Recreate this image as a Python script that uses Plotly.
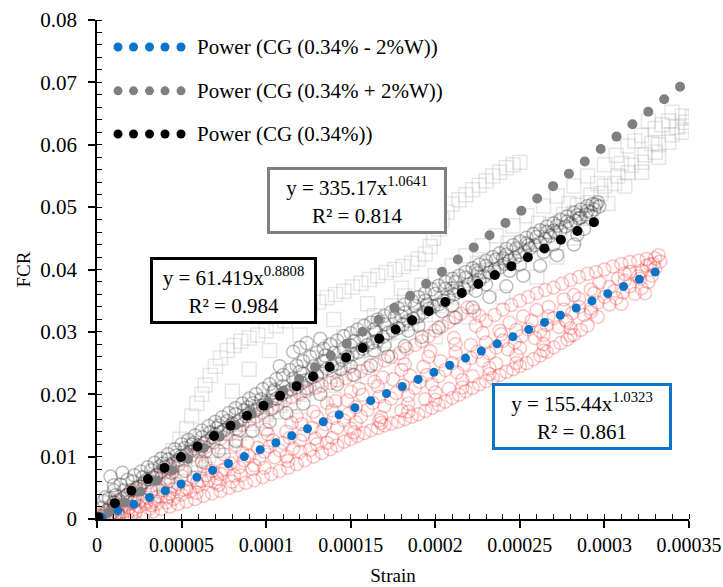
import numpy as np
import plotly.graph_objects as go

# ---------------- data (strain in 1e-5, FCR in 1e-3) ----------------
red_pts = [
    (0.1,0.1),(0.5,1.2),(0.2,0.8),
    (0.3,0.4),(0.8,0.6),(1.2,1.5),(1.6,1.2),(2.1,2.6),(2.5,2.0),(3.0,3.4),(3.4,2.9),(3.9,4.6),(4.3,4.1),
    (4.8,5.6),(5.3,5.0),(5.7,6.6),(6.2,6.1),(6.8,7.7),(7.3,7.2),(7.9,8.9),(8.4,8.3),(9.0,10.1),(9.6,9.6),
    (10.2,11.6),(10.8,11.0),(11.4,13.0),(12.0,12.6),(12.7,14.6),(13.3,14.1),(14.0,16.2),(14.6,15.8),
    (15.3,17.9),(16.0,17.5),(16.7,19.6),(17.4,19.3),(18.1,21.4),(18.8,21.0),(19.5,23.1),(20.2,22.9),
    (21.0,25.0),(21.7,24.7),(22.5,26.8),(23.2,26.6),(24.0,28.6),(24.7,28.3),(25.5,30.4),(26.2,30.1),
    (27.0,32.2),(27.7,31.9),(28.5,34.0),(29.2,33.7),(30.0,35.6),(30.7,35.4),(31.5,37.3),(32.2,37.0),(32.8,39.0),
    (1.0,2.8),(1.8,3.9),(2.6,5.2),(3.5,6.6),(4.4,8.0),(5.2,9.5),(6.0,10.8),(6.9,12.3),(7.7,13.6),(8.6,15.1),
    (9.4,16.4),(10.3,17.6),(11.1,19.0),(12.0,20.1),(12.9,21.0),(13.8,21.8),(14.7,22.6),(15.6,23.7),
    (16.5,24.8),(17.4,26.0),(18.3,27.3),(19.2,28.5),(20.0,30.2),(20.8,31.6),(21.5,32.9),(22.3,33.3),
    (23.0,31.8),(24.0,33.6),(25.0,35.0),(26.0,36.2),(27.0,37.1),(28.0,38.3),(29.0,39.3),(30.0,40.0),
    (31.0,40.9),(32.0,41.4),(33.0,41.8),(32.5,40.6),(31.5,39.6),
    (1.5,0.3),(2.8,0.9),(3.8,1.6),(4.8,2.4),(5.8,3.2),(6.8,4.1),(7.8,5.0),(8.8,5.8),(9.8,6.7),(10.8,7.7),
    (11.8,8.8),(12.8,10.0),(13.8,11.2),(14.6,12.4),(15.4,13.3),(16.2,14.2),(17.0,15.0),(17.8,15.6),
    (18.6,16.4),(19.4,17.3),(20.2,18.3),(21.0,19.4),(21.8,20.5),(22.6,21.6),(23.4,22.6),(24.2,23.6),
    (25.0,24.5),(25.8,25.6),(26.6,26.8),(27.4,28.2),(28.2,29.5),(29.0,31.0),
    (3.2,2.2),(5.0,3.9),(7.0,5.8),(9.2,8.0),(11.2,10.0),(13.0,12.0),(15.0,14.5),(16.8,16.3),(18.4,18.5),
    (20.0,20.3),(21.6,22.3),(23.2,24.2),(24.8,26.2),(26.4,28.0),(28.0,30.6),(29.6,32.4),(31.0,34.5),(32.4,36.2),
    (4.0,6.3),(6.4,9.0),(8.2,11.8),(10.0,14.3),(11.8,16.5),(13.6,18.6),(15.0,20.4),(16.4,22.0),(18.0,23.9),
    (19.6,26.0),(21.2,28.0),(22.8,29.8),(24.4,31.5),(26.0,33.5),(27.6,35.2),(29.2,36.8),(30.8,38.5),(32.2,39.8),
    (0.4,0.2),(0.9,1.0),(1.3,0.6),(1.9,1.8),(2.3,1.1),(2.9,2.5),(3.6,3.6),(4.1,2.7),(4.6,4.8),(5.5,4.4),
    (6.0,5.3),(6.5,7.0),(7.1,6.5),(7.6,8.0),(8.1,7.0),(8.7,9.4),(9.3,8.6),(9.9,10.8),(10.5,9.9),(11.0,12.2),
    (11.6,11.3),(12.2,13.5),(12.9,12.9),(13.5,15.2),(14.2,14.6),(14.9,16.9),(15.6,16.4),(16.3,18.6),
    (17.0,18.1),(17.7,20.2),(18.4,19.8),(19.1,22.0),(19.8,21.6),(20.6,23.9),(21.3,23.5),(22.1,25.8),
    (22.8,25.4),(23.6,27.5),(24.3,27.2),(25.1,29.3),(25.9,29.0),(26.6,31.1),(27.3,30.8),(28.1,33.0),
    (28.8,32.7),(29.6,34.7),(30.3,34.4),(31.1,36.3),(31.8,36.1),(32.6,38.0),(33.0,40.2),
    (2.2,4.6),(3.0,5.8),(4.0,7.4),(4.8,8.6),(5.6,10.2),(6.4,11.5),(7.3,12.9),(8.2,14.4),(9.0,15.8),
    (9.8,17.0),(10.7,18.3),(11.5,19.6),(12.4,20.6),(13.3,21.4),(14.2,22.2),(15.1,23.1),(16.0,24.2),
    (17.0,25.4),(17.9,26.6),(18.8,27.9),(19.6,29.3),(20.4,30.9),(21.1,32.3),(21.9,33.9),(22.6,32.6),
    (23.5,32.7),(24.5,34.3),(25.5,35.6),(26.5,36.7),(27.5,37.7),(28.5,38.8),(29.5,39.6),(30.5,40.5),
    (31.5,41.2),(32.5,41.7),(33.2,42.3),
    (2.0,0.5),(3.3,1.2),(4.3,2.0),(5.3,2.8),(6.3,3.7),(7.3,4.5),(8.3,5.4),(9.3,6.2),(10.3,7.2),(11.3,8.2),
    (12.3,9.4),(13.3,10.6),(14.2,11.8),(15.0,12.8),(15.8,13.8),(16.6,14.6),(17.4,15.3),(18.2,16.0),
    (19.0,16.8),(19.8,17.8),(20.6,18.8),(21.4,19.9),(22.2,21.0),(23.0,22.1),(23.8,23.1),(24.6,24.0),
    (25.4,25.0),(26.2,26.2),(27.0,27.5),(27.8,28.8),(28.6,30.3),
    (1.1,2.0),(2.4,3.3),(3.7,5.2),(5.0,6.9),(6.3,8.4),(7.5,10.4),(8.9,12.2),(10.1,13.6),(11.5,15.4),
    (12.8,17.2),(14.1,18.9),(15.5,20.9),(16.9,22.7),(18.2,24.8),(19.7,26.9),(21.1,29.0),(22.4,31.0),
    (23.8,30.2),(25.2,32.5),(26.7,34.0),(28.2,35.9),(29.7,37.9),(31.2,39.3),(32.7,40.8),
    (1.8,0.9),(3.1,1.7),(4.5,3.2),(5.9,4.2),(7.2,5.5),(8.5,7.0),(9.9,8.2),(11.3,9.3),(12.6,11.1),
    (13.9,13.0),(15.3,15.5),(16.7,15.8),(18.0,17.4),(19.4,19.2),(20.8,20.9),(22.2,22.9),(23.6,24.9),
    (25.0,27.4),(26.4,29.5),(27.8,31.6),(29.2,33.2),(30.6,36.6),(32.0,38.9),
    (0.6,0.5),(1.4,1.1),(2.2,1.6),(2.7,3.1),(3.5,2.4),(4.2,3.5),(5.1,4.7),(5.9,5.8),(6.6,6.2),(7.4,7.8),
    (8.0,6.0),(8.6,10.6),(9.5,11.4),(10.4,12.6),(11.2,14.0),(12.1,15.2),(13.0,16.4),(13.9,17.4),
    (14.8,19.0),(15.7,19.9),(16.6,21.3),(17.5,22.4),(18.5,23.0),(19.3,24.4),(20.3,25.3),(21.2,26.7),
    (22.1,27.9),(23.0,28.3),(23.9,29.6),(24.8,30.3),(25.7,31.8),(26.7,32.5),(27.6,33.6),(28.5,35.3),
    (29.4,36.2),(30.3,37.2),(31.2,38.2),(32.1,38.5),(32.9,40.9),(33.3,41.3),
    (12.0,10.8),(13.6,12.2),(15.2,13.9),(16.8,15.4),(18.4,17.2),(20.0,19.1),(21.6,21.1),(23.2,23.2),
    (24.8,25.0),(26.4,27.0),(28.0,29.4),
]

dark_pts = [
    (0.2,0.5),(0.6,1.4),(1.0,2.6),(1.5,3.3),(2.0,4.6),(2.5,5.2),(3.0,6.4),(3.5,7.0),(4.0,8.3),(4.5,8.9),
    (5.0,10.1),(5.5,10.8),(6.0,11.8),(6.5,12.5),(7.0,13.6),(7.5,14.2),(8.0,15.3),(8.5,15.9),(9.0,17.0),
    (9.5,17.6),(10.0,18.6),(10.6,19.3),(11.2,20.4),(11.8,21.1),(12.4,22.3),(13.0,23.0),(13.6,24.1),
    (14.2,24.9),(14.8,26.0),(15.4,26.7),(16.0,27.9),(16.6,28.6),(17.2,29.8),(17.8,30.6),(18.4,31.8),
    (19.0,32.5),(19.6,33.7),(20.2,34.4),(20.8,35.6),(21.4,36.4),(22.0,37.6),(22.6,38.3),(23.2,39.5),
    (23.8,40.3),(24.4,41.4),(25.0,42.3),(25.6,43.4),(26.2,44.3),(26.8,45.4),(27.4,46.3),(28.0,47.4),
    (28.6,48.3),(29.2,49.2),(29.7,50.1),
    (0.4,2.9),(1.0,4.6),(1.8,6.3),(2.6,7.6),(3.4,9.0),(4.2,10.4),(5.0,12.0),(5.8,13.4),(6.6,14.9),
    (7.4,16.3),(8.2,17.8),(9.0,19.3),(9.8,20.8),(10.6,22.4),(11.4,23.9),(12.2,25.3),(13.0,26.7),
    (13.8,28.0),(14.6,29.3),(15.4,30.4),(16.2,31.5),(17.0,32.6),(17.8,33.8),(18.6,35.0),(19.4,36.2),
    (20.2,37.4),(21.0,38.5),(21.8,39.6),(22.6,40.8),(23.4,42.0),(24.2,43.3),(25.0,44.5),(25.8,45.7),
    (26.6,46.9),(27.4,48.0),(28.2,49.1),(29.0,50.2),(29.6,50.8),
    (10.8,24.5),(11.6,26.8),(12.4,28.2),(13.2,28.9),(12.0,27.5),
    (0.5,3.5),(1.0,5.4),(1.5,7.4),(0.8,6.8),
    (1.2,1.0),(2.2,2.8),(3.2,4.4),(4.2,6.0),(5.2,7.7),(6.2,9.2),(7.2,10.9),(8.2,12.5),(9.2,14.1),
    (10.2,15.6),(11.2,17.0),(12.2,18.5),(13.2,20.0),(14.2,21.6),(15.2,23.1),(16.2,24.6),(17.2,26.1),
    (18.2,27.7),(19.2,29.2),(20.2,30.7),(21.2,32.3),(22.2,33.9),(23.2,35.6),(24.2,37.3),(25.2,39.0),
    (26.2,40.6),(27.2,42.3),(28.2,44.0),
    (0.8,2.0),(1.3,3.0),(1.8,3.9),(2.3,4.9),(2.8,5.9),(3.3,6.7),(3.8,7.6),(4.3,8.6),(4.8,9.5),(5.3,10.4),
    (5.8,11.3),(6.3,12.1),(6.8,13.1),(7.3,13.9),(7.8,14.8),(8.3,15.6),(8.8,16.5),(9.3,17.3),(9.8,18.2),
    (10.3,19.0),(10.9,19.9),(11.5,20.8),(12.1,21.8),(12.7,22.7),(13.3,23.6),(13.9,24.5),(14.5,25.5),
    (15.1,26.4),(15.7,27.3),(16.3,28.3),(16.9,29.2),(17.5,30.2),(18.1,31.2),(18.7,32.1),(19.3,33.1),
    (19.9,34.1),(20.5,35.0),(21.1,36.0),(21.7,37.0),(22.3,38.0),(22.9,38.9),(23.5,39.9),(24.1,40.9),
    (24.7,41.9),(25.3,42.9),(25.9,43.9),(26.5,44.9),(27.1,45.9),(27.7,46.9),(28.3,47.8),(28.9,48.8),(29.4,49.6),
    (1.4,5.5),(2.2,7.0),(3.0,8.3),(3.8,9.7),(4.6,11.2),(5.4,12.7),(6.2,14.2),(7.0,15.6),(7.8,17.0),
    (8.6,18.5),(9.4,20.0),(10.2,21.6),(11.0,23.1),(11.8,24.6),(12.6,26.0),(13.4,27.3),(14.2,28.6),
    (15.0,29.8),(15.8,31.0),(16.6,32.0),(17.4,33.2),(18.2,34.4),(19.0,35.6),(19.8,36.8),(20.6,38.0),
    (21.4,39.0),(22.2,40.2),(23.0,41.4),(23.8,42.6),(24.6,43.9),(25.4,45.1),(26.2,46.3),(27.0,47.4),
    (27.8,48.5),(28.6,49.6),(29.3,50.5),
    (0.3,1.8),(0.7,3.3),(1.1,3.8),(1.6,4.6),(2.1,6.0),(2.7,6.7),(3.2,7.8),(3.7,8.4),(4.2,9.5),(4.7,10.2),
    (5.2,11.4),(5.7,12.2),(6.2,13.1),(6.7,13.9),(7.2,15.0),(7.7,15.7),(8.2,16.8),(8.7,17.4),(9.2,18.6),
    (9.7,19.2),(10.4,20.3),(11.0,21.3),(11.6,22.5),(12.2,23.3),(12.8,24.5),(13.4,25.3),(14.0,26.6),
    (14.6,27.3),(15.2,28.5),(15.8,29.2),(16.4,30.4),(17.0,31.2),(17.6,32.3),(18.2,33.1),(18.8,34.2),
    (19.4,35.0),(20.0,36.1),(20.6,36.9),(21.2,38.0),(21.8,38.7),(22.4,39.8),(23.0,40.6),(23.6,41.6),
    (24.2,42.4),(24.8,43.4),(25.4,44.2),(26.0,45.2),(26.6,46.0),(27.2,47.0),(27.8,47.7),(28.4,48.7),(29.0,49.4),
    (15.0,24.5),(17.0,27.8),(19.0,31.0),(21.0,34.2),(23.0,37.6),(25.0,40.8),(27.0,44.0),(28.8,46.5),
    (3.9,8.9),(5.6,11.9),(7.1,14.6),(8.9,17.9),(10.5,20.7),(12.0,23.6),(13.5,26.2),(15.0,27.8),(16.5,30.0),
    (18.0,32.5),(19.5,34.4),(21.0,37.0),(22.5,39.4),(24.0,41.8),(25.5,43.9),(27.0,46.2),(28.5,48.2),(29.5,50.4),
    (4.4,7.4),(6.4,10.8),(8.4,14.2),(10.4,17.8),(12.4,21.0),(14.4,24.0),(16.4,27.0),(18.4,30.2),(20.4,33.3),
    (22.4,36.6),(24.4,39.8),(26.4,42.8),(28.4,45.6),
]

square_pts = [
    (0.3,0.3),(1.0,0.6),(0.8,2.5),(1.8,2.6),(2.5,5.0),(3.3,4.9),
    (0.5,0.8),(1.2,1.8),(2.0,3.2),(2.8,4.2),(3.6,5.6),(4.4,6.8),(5.2,8.2),(6.0,9.6),(6.8,11.0),(7.6,12.4),
    (8.4,13.8),(9.2,15.3),(10.0,16.8),(10.8,18.2),(11.6,19.6),(12.4,21.0),(13.2,22.4),(14.0,24.0),
    (14.8,25.4),(15.6,27.0),(16.4,28.4),(17.2,29.8),(18.0,31.2),(18.8,32.6),(19.6,34.0),(20.4,35.4),
    (21.2,36.8),(22.0,38.3),(22.8,39.8),(23.6,41.2),(24.4,42.7),(25.2,44.1),(26.0,45.6),(26.8,47.2),
    (27.6,48.8),(28.4,50.3),(29.2,51.9),(30.0,53.4),(30.8,55.0),(31.6,56.7),(32.4,58.4),(33.2,60.0),
    (34.0,61.6),(34.8,63.0),
    (1.5,3.5),(3.0,6.6),(4.8,10.5),(6.6,13.6),(8.4,17.3),(10.2,20.8),(12.0,24.3),(13.8,27.6),(15.6,31.0),
    (17.4,34.2),(19.2,37.5),(21.0,40.6),(22.8,43.8),(24.6,47.0),(26.4,50.2),(28.2,53.4),(30.0,56.8),
    (31.4,59.8),(32.2,61.5),(33.0,62.6),(33.8,63.8),(34.6,64.6),(35.2,64.4),(32.6,63.8),(34.0,65.2),
    (2.2,1.5),(4.0,3.8),(6.0,6.4),(8.0,9.4),(10.0,12.4),(12.0,15.8),(14.0,19.2),(16.0,22.8),(18.0,26.0),
    (20.0,29.2),(22.0,32.4),(24.0,35.6),(26.0,38.8),(27.2,42.0),(28.2,45.0),(29.2,48.2),(30.2,50.6),
    (31.2,53.4),(32.2,55.6),(33.2,58.0),
    (3.5,8.0),(4.5,11.0),(5.3,14.5),(5.9,18.5),(6.4,21.5),(7.0,24.5),(7.7,27.0),(8.5,28.5),(9.5,29.5),
    (10.6,31.0),(11.6,32.5),(12.6,34.0),(13.6,35.5),(14.6,36.5),(15.6,37.8),(16.6,39.0),(17.6,40.0),
    (18.6,41.0),(19.4,42.5),(19.9,45.0),(20.4,48.0),(21.0,50.5),(21.8,52.0),(22.6,53.5),(23.4,55.0),
    (24.2,56.3),(25.0,57.2),
    (4.2,5.5),(5.0,7.2),(5.8,8.8),(6.6,10.2),(7.4,11.6),(8.2,12.9),(9.0,14.4),(9.8,15.8),(10.6,17.2),
    (11.4,18.6),(12.2,20.0),(13.0,21.4),(13.8,22.9),(14.6,24.3),(15.4,25.8),(16.2,27.2),(17.0,28.6),
    (17.8,30.0),(18.6,31.4),(19.4,32.8),(20.2,34.2),(21.0,35.6),(21.8,37.1),(22.6,38.6),(23.4,40.0),
    (24.2,41.5),(25.0,43.0),(25.8,44.5),(26.6,46.0),(27.4,47.6),(28.2,49.1),(29.0,50.7),(29.8,52.2),
    (30.6,53.8),(31.4,55.5),(32.2,57.2),(33.0,58.8),(33.8,60.4),(34.6,62.0),
    (5.6,11.8),(7.4,15.2),(9.2,18.9),(11.0,22.4),(12.8,25.8),(14.6,29.2),(16.4,32.6),(18.2,35.8),
    (20.0,39.0),(21.8,42.2),(23.6,45.4),(25.4,48.6),(27.2,51.8),(29.0,55.0),(30.7,58.3),(31.8,60.6),
    (33.4,63.2),(34.8,63.6),
    (4.0,9.5),(4.9,12.8),(5.6,16.5),(6.2,20.0),(6.7,23.0),(7.3,25.8),(8.1,27.8),(9.0,29.0),(10.0,30.2),
    (11.1,31.8),(12.1,33.2),(13.1,34.8),(14.1,36.0),(15.1,37.2),(16.1,38.4),(17.1,39.5),(18.1,40.5),
    (19.0,41.7),(19.7,43.7),(20.2,46.5),(20.7,49.2),(21.4,51.2),(22.2,52.8),(23.0,54.2),(23.8,55.6),
    (24.6,56.8),
    (9.6,18.0),(11.8,21.7),(13.5,25.0),(15.3,28.4),(17.1,31.6),(18.9,34.8),(20.7,38.0),(22.5,41.0),
    (24.3,44.2),(26.1,47.4),(27.9,50.6),(29.6,53.8),(31.0,57.0),(32.8,60.2),(34.3,62.8),(8.0,20.5),
    (9.0,24.0),(10.2,27.0),(12.0,29.5),(14.0,32.0),(16.0,34.5),(18.0,37.0),
]

# power trend lines: y = a * x^b  (from the chart's equations)
fit_names = ["Power (CG (0.34% - 2%W))", "Power (CG (0.34% + 2%W))", "Power (CG (0.34%))"]
fit_a = [155.44, 335.17, 61.419]
fit_b = [1.0323, 1.0641, 0.8808]
fit_r2 = ["0.861", "0.814", "0.984"]
fit_x_start = [0.000003, 0.0000069, 0.0000008]
fit_x_end = [0.00033, 0.0003447, 0.0002938]
fit_dots = [36, 37, 31]
fit_colors = ["#0A74C8", "#808080", "#000000"]

x_tick_vals = [0, 0.00005, 0.0001, 0.00015, 0.0002, 0.00025, 0.0003, 0.00035]
x_tick_text = ["0", "0.00005", "0.0001", "0.00015", "0.0002", "0.00025", "0.0003", "0.00035"]
y_tick_vals = [0, 0.01, 0.02, 0.03, 0.04, 0.05, 0.06, 0.07, 0.08]
y_tick_text = ["0", "0.01", "0.02", "0.03", "0.04", "0.05", "0.06", "0.07", "0.08"]


def unpack(pts):
    xs = [p[0] * 1e-5 for p in pts]
    ys = [p[1] * 1e-3 for p in pts]
    return xs, ys


FONT = "Liberation Serif"
fig = go.Figure()

sx, sy = unpack(square_pts)
fig.add_trace(go.Scatter(x=sx, y=sy, mode="markers", showlegend=False,
                         marker=dict(symbol="square-open", size=14, color="rgba(150,150,150,0.24)",
                                     line=dict(width=1.5))))
rx, ry = unpack(red_pts)
fig.add_trace(go.Scatter(x=rx, y=ry, mode="markers", showlegend=False,
                         marker=dict(symbol="circle-open", size=13, color="rgba(245,40,40,0.28)",
                                     line=dict(width=1.5))))
dx, dy = unpack(dark_pts)
fig.add_trace(go.Scatter(x=dx, y=dy, mode="markers", showlegend=False,
                         marker=dict(symbol="circle-open", size=13, color="rgba(40,40,40,0.3)",
                                     line=dict(width=1.5))))

dot_sizes = [9, 10, 10]
for i in range(3):
    xs = np.linspace(fit_x_start[i], fit_x_end[i], fit_dots[i])
    ys = fit_a[i] * xs ** fit_b[i]
    fig.add_trace(go.Scatter(x=xs, y=ys, mode="markers", showlegend=False, name=fit_names[i],
                             marker=dict(symbol="circle", size=dot_sizes[i], color=fit_colors[i])))

# legend (drawn manually: five dots + text)
legend_y = [0.946, 0.858, 0.7715]
legend_dot_x = [0.0355, 0.0617, 0.0887, 0.1149, 0.1419]
shapes = []
for i in range(3):
    for lx in legend_dot_x:
        shapes.append(dict(type="circle", xref="paper", yref="paper", xsizemode="pixel", ysizemode="pixel",
                           xanchor=lx, yanchor=legend_y[i], x0=-4.5, x1=4.5, y0=-4.5, y1=4.5,
                           fillcolor=fit_colors[i], line=dict(width=0)))
annotations = []
for i in range(3):
    annotations.append(dict(xref="paper", yref="paper", x=0.1655, y=legend_y[i], xanchor="left",
                            yanchor="middle", showarrow=False, text=fit_names[i],
                            font=dict(family=FONT, size=21, color="black")))

# equation boxes
box_pos = [(0.8188, 0.205), (0.4392, 0.6383), (0.2306, 0.458)]
box_w = [170, 170, 157]
for i in range(3):
    txt = "y = %sx<sup>%s</sup><br>R² = %s" % (fit_a[i], fit_b[i], fit_r2[i])
    annotations.append(dict(xref="paper", yref="paper", x=box_pos[i][0], y=box_pos[i][1],
                            xanchor="center", yanchor="middle", showarrow=False, text=txt,
                            align="center", width=box_w[i], height=57,
                            bgcolor="white", bordercolor=fit_colors[i], borderwidth=3, borderpad=2,
                            font=dict(family=FONT, size=21, color="black")))

fig.update_layout(
    width=723, height=587,
    margin=dict(l=97, r=34, t=20, b=68),
    paper_bgcolor="white", plot_bgcolor="white",
    font=dict(family=FONT, size=20, color="black"),
    shapes=shapes, annotations=annotations,
    xaxis=dict(range=[0, 0.00035], tickmode="array", tickvals=x_tick_vals, ticktext=x_tick_text,
               automargin=False,
               showline=True, linecolor="black", linewidth=1.5, ticks="outside", ticklen=7, tickwidth=1.5,
               tickcolor="black", showgrid=False, zeroline=False,
               tickfont=dict(family=FONT, size=20),
               minor=dict(tickmode="linear", tick0=0, dtick=0.00001, ticks="inside", ticklen=5,
                          tickwidth=1, tickcolor="black", showgrid=False),
               title=dict(text="Strain", font=dict(family=FONT, size=19), standoff=14)),
    yaxis=dict(range=[0, 0.08], tickmode="array", tickvals=y_tick_vals, ticktext=y_tick_text,
               automargin=False, ticklabelstandoff=7,
               showline=True, linecolor="black", linewidth=1.5, ticks="outside", ticklen=7, tickwidth=1.5,
               tickcolor="black", showgrid=False, zeroline=False,
               tickfont=dict(family=FONT, size=21),
               minor=dict(tickmode="linear", tick0=0, dtick=0.002, ticks="inside", ticklen=5,
                          tickwidth=1, tickcolor="black", showgrid=False),
               title=dict(text="FCR", font=dict(family=FONT, size=19), standoff=5)),
)

# remove the default 8px page margin so the 723x587 figure fills the window exactly
fig.write_html("out.html", config={"displayModeBar": False},
               post_script="document.body.style.margin='0px';document.body.style.overflow='hidden';")
